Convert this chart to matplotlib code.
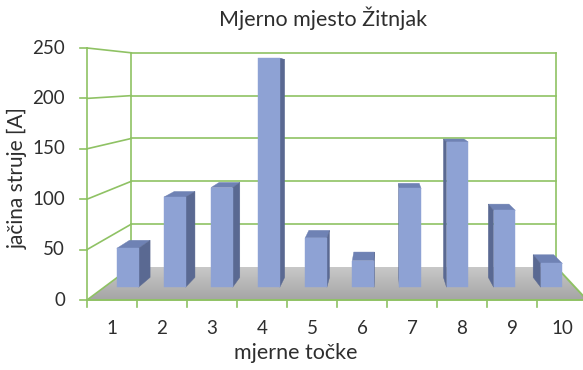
import matplotlib.pyplot as plt
import numpy as np
from matplotlib.patches import Polygon
from matplotlib.colors import LinearSegmentedColormap

plt.rcParams['font.family'] = ['Lato', 'DejaVu Sans']

points = ['1', '2', '3', '4', '5', '6', '7', '8', '9', '10']
current = [41, 95, 105, 241, 52, 28, 104, 153, 81, 25]
y_ticks = [0, 50, 100, 150, 200, 250]

# simple one-point perspective, everything in pixel units
VX, VY = 382, 80          # vanishing point
X0, DX = 87, 50.0         # front plane: left edge, width of one category
Y0, DY = 300, 1.008       # front plane: zero line, pixels per ampere
DEPTH = 1 / 0.85 - 1      # back plane is 85% of the front one


def proj(x, v, z):
    s = 1.0 / (1.0 + DEPTH * z)
    return VX + s * (X0 + DX * x - VX), VY + s * (Y0 - DY * v - VY)


fig = plt.figure(figsize=(5.83, 3.70), dpi=100)
ax = fig.add_axes([0, 0, 1, 1])

green = '#8fc264'
text_c = '#2e2e2e'
n = len(points)
vmax = y_ticks[-1]

# floor with a light gradient
floor = [proj(0, 0, 0), proj(n, 0, 0), proj(n, 0, 1), proj(0, 0, 1)]
floor_patch = Polygon(floor, closed=True, facecolor='none', edgecolor='none')
ax.add_patch(floor_patch)
grad = np.linspace(0, 1, 64).reshape(-1, 1)
cmap = LinearSegmentedColormap.from_list('floor', ['#a5a5a5', '#c8c8c8'])
im = ax.imshow(grad, cmap=cmap, extent=(0, 583, floor[0][1], floor[2][1]),
               origin='lower', aspect='auto', zorder=1)
im.set_clip_path(floor_patch)

# back wall
for v in y_ticks[1:]:
    (xa, ya), (xb, yb) = proj(0, v, 1), proj(n, v, 1)
    ax.plot([xa, xb], [ya, yb], color=green, lw=1.2, zorder=2)
for x in (0, n):
    (xa, ya), (xb, yb) = proj(x, 0, 1), proj(x, vmax, 1)
    ax.plot([xa, xb], [ya, yb], color=green, lw=1.2, zorder=2)

# left wall
for v in y_ticks:
    (xa, ya), (xb, yb) = proj(0, v, 0), proj(0, v, 1)
    ax.plot([xa, xb], [ya, yb], color=green, lw=1.2, zorder=2)
    ax.plot([xa - 7, xa], [ya, ya], color=green, lw=1.2, zorder=2)
    ax.text(xa - 22, ya, str(v), ha='right', va='center', fontsize=13.5, color=text_c)
(xa, ya), (xb, yb) = proj(0, 0, 0), proj(0, vmax, 0)
ax.plot([xa, xb], [ya, yb], color=green, lw=1.2, zorder=2)

# floor edges and category ticks
for a, b in [((0, 0, 0), (n, 0, 0)), ((n, 0, 0), (n, 0, 1))]:
    (xa, ya), (xb, yb) = proj(*a), proj(*b)
    ax.plot([xa, xb], [ya, yb], color=green, lw=1.4, zorder=2)
for k in range(n + 1):
    xa, ya = proj(k, 0, 0)
    ax.plot([xa, xa], [ya, ya + 7], color=green, lw=1.2, zorder=2)

# bars
front_c, side_c, top_c = '#8ea2d4', '#5a6992', '#6f82b4'
hw, z0, z1 = 0.23, 0.35, 0.65
for i, val in enumerate(current):
    xl, xr = i + 0.5 - hw, i + 0.5 + hw
    top = [proj(xl, val, z0), proj(xr, val, z0), proj(xr, val, z1), proj(xl, val, z1)]
    xs = xr if proj(i + 0.5, 0, 0)[0] < VX else xl
    side = [proj(xs, 0, z0), proj(xs, val, z0), proj(xs, val, z1), proj(xs, 0, z1)]
    front = [proj(xl, 0, z0), proj(xr, 0, z0), proj(xr, val, z0), proj(xl, val, z0)]
    for pts, c in [(top, top_c), (side, side_c), (front, front_c)]:
        ax.add_patch(Polygon(pts, closed=True, facecolor=c, edgecolor=c, lw=0.3, zorder=3))

for i, lab in enumerate(points):
    x, y = proj(i + 0.5, 0, 0)
    ax.text(x, 328, lab, ha='center', va='center', fontsize=13.5, color=text_c)

ax.text(323, 18, 'Mjerno mjesto Žitnjak', ha='center', va='center', fontsize=15.5, color=text_c)
ax.text(296, 353, 'mjerne točke', ha='center', va='center', fontsize=15.5, color=text_c)
ax.text(18, 178, 'jačina struje [A]', ha='center', va='center', rotation=90,
        fontsize=15, color=text_c)

ax.set_xlim(0, 583)
ax.set_ylim(370, 0)
ax.axis('off')
fig.savefig('out.png', dpi=100)
